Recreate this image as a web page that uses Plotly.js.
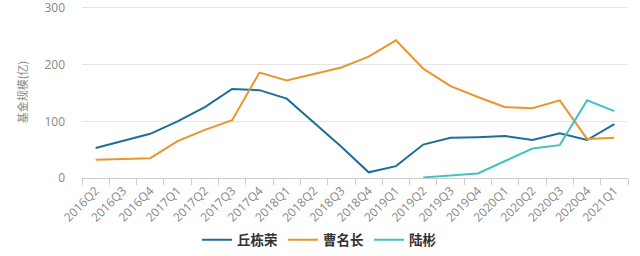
<!DOCTYPE html>
<html>
<head>
<meta charset="utf-8">
<script src="https://cdn.plot.ly/plotly-3.0.1.min.js"></script>
<style>html,body{margin:0;padding:0;background:#fff;}#chart{width:640px;height:256px;}</style>
</head>
<body>
<div id="chart"></div>
<script>
const quarters = ["2016Q2","2016Q3","2016Q4","2017Q1","2017Q2","2017Q3","2017Q4","2018Q1","2018Q2","2018Q3","2018Q4","2019Q1","2019Q2","2019Q3","2019Q4","2020Q1","2020Q2","2020Q3","2020Q4","2021Q1"];
const qiuDongrong = [53,66,78,100,125,157,155,140,98,55,10,21,59,71,72,74,67,79,67,95];
const caoMingzhang = [32,34,35,65,85,102,186,172,184,195,214,243,193,162,143,125,123,137,69,71];
const luBin = [null,null,null,null,null,null,null,null,null,null,null,null,1,4,8,30,52,58,137,118];
const names = ["丘栋荣","曹名长","陆彬"];
const colors = ["#1d6f98","#e8962d","#45c1c4"];
const yTicks = [0,100,200,300];

const series = [qiuDongrong, caoMingzhang, luBin];
const traces = series.map((s,i)=>({
  x: quarters, y: s, name: names[i], type: 'scatter', mode: 'lines',
  line: {color: colors[i], width: 2}, connectgaps: false
}));

const layout = {
  width: 640, height: 256,
  margin: {l: 82, r: 12, t: 6, b: 78, autoexpand: false},
  paper_bgcolor: '#fff', plot_bgcolor: '#fff',
  font: {family: '"Noto Sans CJK SC", "Open Sans", sans-serif', color: '#888'},
  showlegend: true,
  legend: {orientation: 'h', x: 0.435, xref: 'paper', xanchor: 'center', y: 0.0625, yref: 'container', yanchor: 'middle',
    font: {size: 13.5, color: '#333', family: '"Noto Sans CJK SC", sans-serif', weight: 'bold'},
    itemwidth: 30, tracegroupgap: 0},
  xaxis: {
    type: 'category', tickangle: -45, ticks: 'outside', tickson: 'boundaries',
    ticklen: 6, tickcolor: '#ccc', showline: true, linecolor: '#ccc', linewidth: 1,
    showgrid: false, automargin: false,
    tickfont: {size: 12, color: '#888', family: '"Open Sans", sans-serif'},
    range: [-0.5, 19.5]
  },
  yaxis: {
    range: [0, 303.5], tickmode: 'array', tickvals: yTicks, ticktext: yTicks.map(String), ticks: '', showline: false,
    gridcolor: '#e6e6e6', zeroline: false, automargin: false, ticklabelstandoff: 16, ticklabeloverflow: 'allow',
    tickfont: {size: 12, color: '#888', family: '"Open Sans", sans-serif'},
    title: {text: '基金规模(亿)', font: {size: 11, color: '#888', family: '"Noto Sans CJK SC", sans-serif'}, standoff: 14}
  }
};
Plotly.newPlot('chart', traces, layout, {displayModeBar: false, staticPlot: true});
</script>
</body>
</html>
